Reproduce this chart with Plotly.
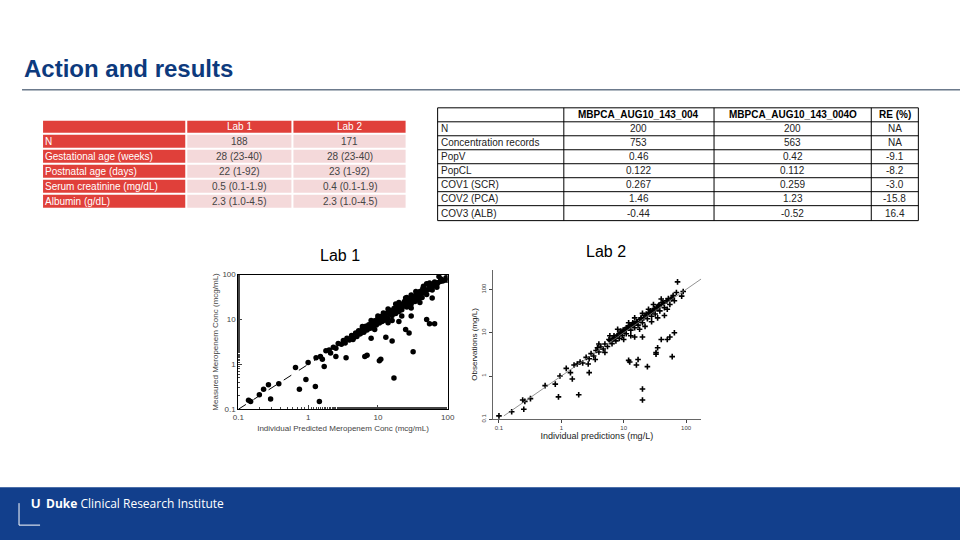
import plotly.graph_objects as go

W, H = 960, 540
# the page is photographed with a small offset and shrink; these undo it
OFF_X, OFF_Y, SHRINK = 6, 4, 0.985

def px_x(x):
    return ((x - OFF_X) / SHRINK) / W

def px_y(y):
    return 1 - ((y - OFF_Y) / SHRINK) / H

# left table
t1_head = ['', 'Lab 1', 'Lab 2']
t1_rows = ['N', 'Gestational age (weeks)', 'Postnatal age (days)', 'Serum creatinine (mg/dL)', 'Albumin (g/dL)']
t1_lab1 = ['188', '28 (23-40)', '22 (1-92)', '0.5 (0.1-1.9)', '2.3 (1.0-4.5)']
t1_lab2 = ['171', '28 (23-40)', '23 (1-92)', '0.4 (0.1-1.9)', '2.3 (1.0-4.5)']

# right table
t2_head = ['', 'MBPCA_AUG10_143_004', 'MBPCA_AUG10_143_004O', 'RE (%)']
t2_rows = ['N', 'Concentration records', 'PopV', 'PopCL', 'COV1 (SCR)', 'COV2 (PCA)', 'COV3 (ALB)']
t2_a = ['200', '753', '0.46', '0.122', '0.267', '1.46', '-0.44']
t2_b = ['200', '563', '0.42', '0.112', '0.259', '1.23', '-0.52']
t2_re = ['NA', 'NA', '-9.1', '-8.2', '-3.0', '-15.8', '16.4']

# Lab 1 scatter (predicted vs measured, mcg/mL)
lab1_pred = [0.14, 0.15, 0.2, 0.23, 0.27, 0.29, 0.38, 0.66, 0.75, 0.93, 1.0, 1.27, 1.45, 1.7,
             17, 32, 11, 10.5, 7, 6.5, 16, 8, 13, 55, 65, 50, 25, 28, 3.5, 2.5, 20, 30,
             1.3, 1.5, 1.6, 1.8, 2.0, 2.1, 2.3, 2.5, 2.7, 3.0, 3.2, 3.4, 3.6, 3.9, 4.2, 4.5, 4.8, 5.0,
             5.3, 5.6, 6.0, 6.3, 6.7, 7.0, 7.4, 7.8, 8.2, 8.6, 9.0, 9.5, 10, 10.5, 11, 11.5, 12, 12.5,
             13, 14, 15, 16, 17, 18, 19, 20, 21, 22, 24, 26, 28, 30, 32, 34, 36, 38, 40, 43, 46, 50,
             55, 60, 65, 70, 80, 90, 75, 55, 45, 35, 25, 18, 12, 8, 6, 9, 14, 22, 30, 40, 60, 85,
             100, 50, 28, 16, 19, 24, 33, 42, 48, 58, 62, 70, 38, 27, 21, 15, 11, 7.5, 5.5, 4.4,
             5.8, 6.8, 7.7, 8.8, 9.8, 11.2, 12.8, 14.5, 16.5, 18.5, 20.5, 23, 25.5, 27.5, 29, 31, 33, 35,
             37, 39, 41, 44, 47, 52, 57, 63, 68, 72, 78, 95, 26, 30, 36, 44, 53, 20, 14, 10, 9.2, 66]
lab1_obs = [0.16, 0.15, 0.21, 0.28, 0.35, 0.17, 0.37, 0.85, 0.28, 0.46, 1.1, 0.32, 0.15, 0.9,
            0.5, 1.9, 1.3, 1.2, 1.6, 1.5, 3.3, 3.8, 4.0, 8, 8, 10, 6, 5, 1.4, 1.5, 9, 12,
            1.4, 1.5, 1.3, 2.0, 2.1, 1.8, 2.4, 2.3, 2.9, 2.8, 3.4, 3.0, 3.8, 3.5, 4.4, 3.9, 5.0, 4.2,
            5.6, 4.8, 6.3, 5.2, 7.1, 5.8, 7.6, 6.4, 8.6, 7.0, 9.4, 7.5, 10.5, 8.3, 11.6, 9.0, 12.4, 9.6,
            13.5, 10.5, 15.8, 12.2, 17.5, 13.5, 19.8, 15, 22, 16.5, 25, 19, 29, 22, 33, 25, 37, 28, 42, 31, 48, 36,
            57, 45, 68, 52, 80, 75, 90, 65, 55, 42, 30, 22, 14, 9.5, 7, 6, 8.5, 12, 18, 24, 30, 72,
            75, 62, 20, 9.5, 17, 20, 28, 38, 40, 50, 55, 60, 34, 24, 18, 13, 9.5, 6.5, 4.8, 3.6,
            5.5, 6.6, 7.2, 8.2, 9.0, 10.8, 11.5, 13.8, 15.0, 17.0, 19.5, 20.5, 24.5, 23.5, 27, 29, 30, 31,
            35, 35, 38, 40, 44, 46, 52, 58, 60, 66, 70, 85, 31, 35, 40, 48, 60, 24, 17, 12, 8.0, 58]

# Lab 2 scatter (predictions vs observations, mg/L)
lab2_pred = [0.1, 0.16, 0.24, 0.25, 0.26, 0.32, 0.55, 0.8, 0.9, 0.95, 1.5, 1.9, 2.8, 12, 12.5,
             16, 17, 24, 20, 20, 33, 33, 35, 60, 65, 73, 70, 90, 85, 50, 55, 40, 15, 20, 13,
             1.6, 1.8, 2.0, 2.2, 2.5, 2.8, 3.0, 3.3, 3.6, 4.0, 4.3, 4.7, 5.0, 5.5, 6.0, 6.5, 7.0, 7.5,
             8.0, 8.5, 9.0, 9.5, 10, 11, 12, 13, 14, 15, 16, 17, 18, 20, 22, 24, 26, 28, 30, 32, 35,
             38, 40, 45, 50, 55, 60, 65, 12, 20, 30, 40, 8, 15, 25, 10, 18, 28, 45, 35, 50, 22, 6, 4,
             1.2, 1.4, 2.7, 3.5, 5, 9, 11, 14, 19, 23, 27, 31, 36, 42, 48, 52, 7, 5.8, 3.8,
             6.8, 7.8, 8.8, 9.8, 10.5, 11.5, 12.5, 13.5, 16.5, 19, 21, 25, 29, 34, 37, 44, 58, 62, 10.2, 14.5]
lab2_obs = [0.12, 0.15, 0.28, 0.17, 0.26, 0.3, 0.6, 0.65, 0.33, 1.0, 0.85, 0.37, 1.2, 2.3, 2.1,
            1.8, 2.4, 1.65, 0.5, 0.28, 3.5, 3.2, 4.5, 2.8, 10, 150, 85, 90, 70, 7, 8, 7, 8, 8, 8.5,
            1.8, 1.9, 2.1, 2.0, 2.7, 2.5, 3.3, 2.9, 3.9, 3.6, 4.7, 4.2, 5.5, 4.8, 6.6, 5.6, 7.8, 6.5,
            8.8, 7.4, 10, 8.5, 11, 9.5, 13.5, 11.5, 15.5, 13, 18, 15, 20, 17, 25, 21, 29, 24, 33, 27, 39,
            32, 45, 38, 55, 45, 65, 55, 17, 28, 45, 60, 12, 22, 35, 7, 12, 18, 25, 22, 35, 14, 8.5, 5.5,
            1.5, 1.2, 1.9, 2.4, 3.5, 11, 13, 17, 22, 27, 32, 36, 42, 50, 55, 62, 8.5, 7, 4.5,
            7.2, 8.5, 9.5, 11.5, 11.8, 13.2, 14.5, 15.5, 17.5, 21, 22, 28, 31, 36, 44, 48, 60, 72, 10.5, 16]

navy = '#0d3a7d'
red = '#e0403a'
pink = '#f4d9da'

shapes = [
    dict(type='rect', xref='paper', yref='paper', x0=-0.05, x1=1.05, y0=-0.05, y1=px_y(488),
         fillcolor='#123f8c', line_width=0, layer='below'),
    dict(type='line', xref='paper', yref='paper', x0=px_x(22), x1=1.05, y0=px_y(90), y1=px_y(90),
         line=dict(color='#1f3550', width=1)),
    dict(type='path', xref='paper', yref='paper',
         path=f'M {px_x(19)} {px_y(504)} L {px_x(19)} {px_y(526)} L {px_x(40)} {px_y(526)}',
         line=dict(color='white', width=1)),
]
annotations = []

def cell_text(text, x, y, color, size=10, anchor='center', bold=False):
    if bold:
        text = '<b>' + text + '</b>'
    annotations.append(dict(text=text, x=px_x(x), y=px_y(y), xref='paper', yref='paper',
                            xanchor=anchor, yanchor='middle', showarrow=False,
                            font=dict(family='Arial', size=size, color=color)))

# left table drawn as coloured cells
t1_x = [42, 186, 292, 406]
t1_y = [120, 134, 149, 164, 179, 194, 209]
t1_cols = [t1_rows, t1_lab1, t1_lab2]
for r in range(len(t1_y) - 1):
    for c in range(3):
        fill = red if (r == 0 or c == 0) else pink
        shapes.append(dict(type='rect', xref='paper', yref='paper',
                           x0=px_x(t1_x[c] + 1), x1=px_x(t1_x[c + 1] - 1),
                           y0=px_y(t1_y[r + 1] - 1), y1=px_y(t1_y[r] + 1),
                           fillcolor=fill, line_width=0))
        ym = (t1_y[r] + t1_y[r + 1]) / 2
        if r == 0:
            cell_text(t1_head[c], (t1_x[c] + t1_x[c + 1]) / 2, ym, 'white')
        elif c == 0:
            cell_text(t1_cols[0][r - 1], t1_x[0] + 1, ym, 'white', anchor='left')
        else:
            cell_text(t1_cols[c][r - 1], (t1_x[c] + t1_x[c + 1]) / 2, ym, '#444')

# right table with black grid
t2_x = [437, 563, 713, 870, 917]
t2_y = [108, 122, 136, 150, 164, 178, 192, 206, 221]
t2_cols = [t2_rows, t2_a, t2_b, t2_re]
for xv in t2_x:
    shapes.append(dict(type='line', xref='paper', yref='paper', x0=px_x(xv), x1=px_x(xv),
                       y0=px_y(t2_y[0]), y1=px_y(t2_y[-1]), line=dict(color='black', width=1)))
for yv in t2_y:
    shapes.append(dict(type='line', xref='paper', yref='paper', x0=px_x(t2_x[0]), x1=px_x(t2_x[-1]),
                       y0=px_y(yv), y1=px_y(yv), line=dict(color='black', width=1)))
for r in range(len(t2_y) - 1):
    ym = (t2_y[r] + t2_y[r + 1]) / 2
    for c in range(4):
        if r == 0:
            cell_text(t2_head[c], (t2_x[c] + t2_x[c + 1]) / 2, ym, 'black', bold=True)
        elif c == 0:
            cell_text(t2_cols[0][r - 1], t2_x[0] + 1, ym, '#222', anchor='left')
        else:
            cell_text(t2_cols[c][r - 1], (t2_x[c] + t2_x[c + 1]) / 2, ym, '#222')

annotations += [
    dict(text='<b>Action and results</b>', x=px_x(22), y=px_y(69), xref='paper', yref='paper',
         xanchor='left', yanchor='middle', showarrow=False,
         font=dict(family='Arial', size=24, color=navy)),
    dict(text='Lab 1', x=px_x(340), y=px_y(256), xref='paper', yref='paper', showarrow=False,
         font=dict(family='Arial', size=16, color='black')),
    dict(text='Lab 2', x=px_x(605), y=px_y(252), xref='paper', yref='paper', showarrow=False,
         font=dict(family='Arial', size=16, color='black')),
    dict(text='<b>U</b>', x=px_x(29), y=px_y(514), xref='paper', yref='paper', showarrow=False,
         font=dict(family='Arial', size=13, color='white')),
    dict(text='<b>Duke</b> Clinical Research Institute', x=px_x(44), y=px_y(515),
         xref='paper', yref='paper', xanchor='left', showarrow=False,
         font=dict(family='Open Sans', size=12, color='white')),
]

fig = go.Figure()
fig.add_trace(go.Scatter(x=lab1_pred, y=lab1_obs, mode='markers', xaxis='x', yaxis='y',
                         marker=dict(color='black', size=5.5), showlegend=False))
fig.add_trace(go.Scatter(x=[0.1, 100], y=[0.1, 100], mode='lines', xaxis='x', yaxis='y',
                         line=dict(color='black', width=1, dash='dash'), showlegend=False))
fig.add_trace(go.Scatter(x=lab2_pred, y=lab2_obs, mode='markers', xaxis='x2', yaxis='y2',
                         marker=dict(color='black', size=4, symbol='cross-thin',
                                     line=dict(color='black', width=1.6)), showlegend=False))
fig.add_trace(go.Scatter(x=[0.12, 180], y=[0.12, 180], mode='lines', xaxis='x2', yaxis='y2',
                         line=dict(color='#777', width=0.8), showlegend=False))

ticks = [0.1, 1, 10, 100]
tick_txt = ['0.1', '1', '10', '100']
ax_font = dict(family='Arial', size=8, color='#444')
small_font = dict(family='Arial', size=6, color='#444')

fig.update_layout(
    autosize=True, margin=dict(l=0, r=0, t=0, b=0),
    paper_bgcolor='white', plot_bgcolor='white', showlegend=False,
    xaxis=dict(type='log', range=[-1, 2], domain=[px_x(238), px_x(447)], anchor='y',
               tickvals=ticks, ticktext=tick_txt, ticks='inside', ticklen=4, mirror=True,
               showline=True, linecolor='black', showgrid=False, zeroline=False, tickfont=ax_font,
               minor=dict(ticks='inside', ticklen=2, showgrid=False),
               title=dict(text='Individual Predicted Meropenem Conc (mcg/mL)', font=ax_font, standoff=4)),
    yaxis=dict(type='log', range=[-1, 2], domain=[px_y(410), px_y(275)], anchor='x',
               tickvals=ticks, ticktext=tick_txt, ticks='inside', ticklen=4, mirror=True,
               showline=True, linecolor='black', showgrid=False, zeroline=False, tickfont=ax_font,
               minor=dict(ticks='inside', ticklen=2, showgrid=False),
               title=dict(text='Measured Meropenem Conc (mcg/mL)', font=ax_font, standoff=2)),
    xaxis2=dict(type='log', range=[-1.1, 2.24], domain=[px_x(492), px_x(700)], anchor='y2',
                tickvals=ticks, ticktext=tick_txt, ticks='outside', ticklen=3,
                showline=True, linecolor='#666', showgrid=False, zeroline=False, tickfont=small_font,
                title=dict(text='Individual predictions (mg/L)',
                           font=dict(family='Arial', size=9, color='#222'), standoff=2)),
    yaxis2=dict(type='log', range=[-1, 2.46], domain=[px_y(420), px_y(270)], anchor='x2',
                tickvals=ticks, ticktext=tick_txt, ticks='outside', ticklen=3, tickangle=-90,
                showline=True, linecolor='#666', showgrid=False, zeroline=False, tickfont=small_font,
                title=dict(text='Observations (mg/L)',
                           font=dict(family='Arial', size=8, color='#222'), standoff=2)),
    shapes=shapes,
    annotations=annotations,
)

fig.write_html('out.html', default_width='100vw', default_height='100vh',
               config=dict(displayModeBar=False, responsive=True),
               post_script="document.body.style.margin='0';document.body.style.overflow='hidden';"
                           "Plotly.Plots.resize(document.getElementById('{plot_id}'));")
